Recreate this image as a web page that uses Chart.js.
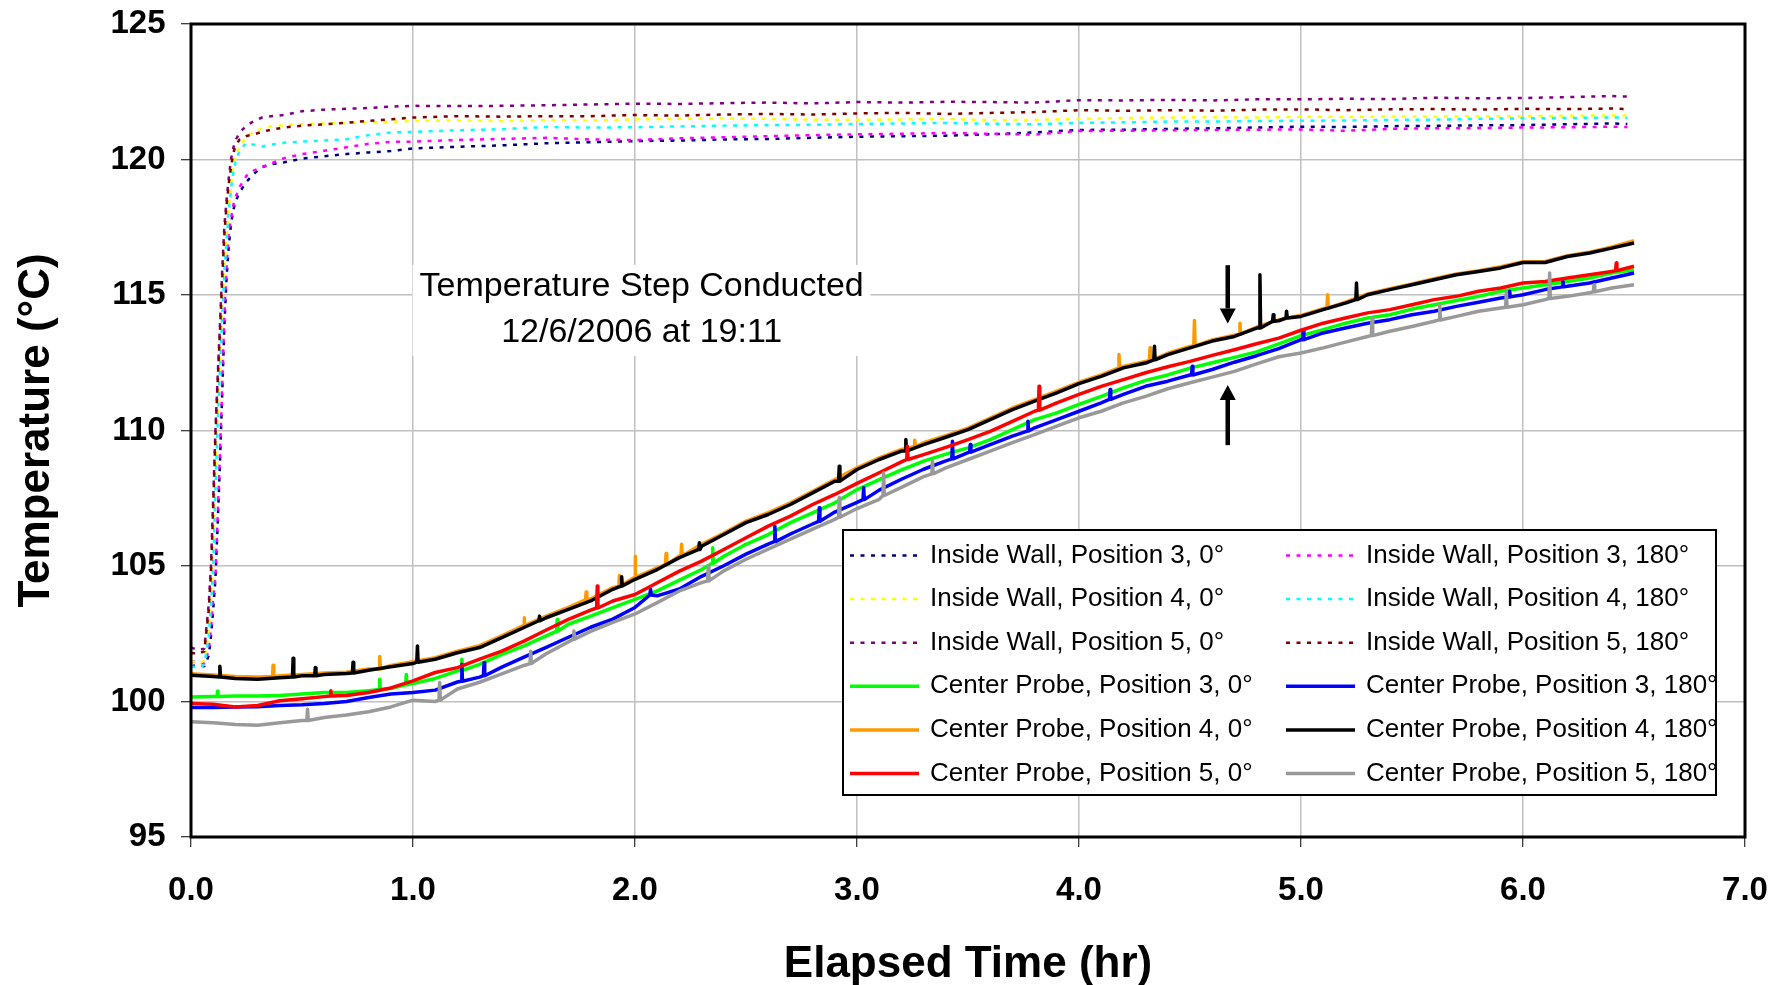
<!DOCTYPE html>
<html>
<head>
<meta charset="utf-8">
<script src="https://cdn.jsdelivr.net/npm/chart.js@4.4.1/dist/chart.umd.min.js"></script>
<style>
html,body{margin:0;padding:0;background:#fff;}
#wrap{width:1788px;height:985px;position:relative;}
canvas{display:block;}
</style>
</head>
<body>
<div id="wrap"><canvas id="c" width="1788" height="985"></canvas></div>
<script>
// ---------------- DATA ----------------
const xTickMin = 0, xTickMax = 7, xTickStep = 1;
const yTickMin = 95, yTickMax = 125, yTickStep = 5;

const wallTimes = [0, 0.03, 0.06, 0.08, 0.09, 0.10, 0.11, 0.12, 0.13, 0.14,
  0.15, 0.16, 0.17, 0.18, 0.19, 0.20, 0.22, 0.25, 0.28, 0.32,
  0.36, 0.42, 0.5, 0.6, 0.7, 0.8, 0.9, 1.0, 1.2, 1.4,
  1.6, 1.8, 2.0, 2.2, 2.4, 2.6, 2.8, 3.0, 3.2, 3.4,
  3.6, 3.8, 4.0, 4.2, 4.4, 4.6, 4.8, 5.0, 5.2, 5.4,
  5.6, 5.8, 6.0, 6.2, 6.4, 6.47];

const wall3_0 = [101.3, 101.35, 101.3, 101.7, 102.4, 103.4, 104.5, 106.5, 108.7, 111.2,
  113.8, 115.6, 116.8, 117.6, 118.1, 118.45, 118.8, 119.18, 119.45, 119.72,
  119.82, 119.9, 120.03, 120.12, 120.2, 120.26, 120.31, 120.41, 120.47, 120.52,
  120.6, 120.64, 120.68, 120.7, 120.74, 120.76, 120.8, 120.84, 120.86, 120.88,
  120.93, 121.0, 121.09, 121.1, 121.13, 121.15, 121.18, 121.21, 121.2, 121.23,
  121.24, 121.26, 121.27, 121.3, 121.33, 121.31];
const wall3_180 = [101.45, 101.5, 101.4, 101.9, 102.7, 103.8, 104.6, 106.8, 109.0, 111.5,
  114.2, 116.0, 117.3, 117.8, 118.3, 118.6, 119.0, 119.4, 119.58, 119.72,
  119.85, 120.05, 120.2, 120.32, 120.45, 120.58, 120.65, 120.66, 120.72, 120.76,
  120.8, 120.74, 120.72, 120.78, 120.82, 120.86, 120.9, 120.93, 120.95, 120.98,
  120.95, 120.92, 121.05, 121.06, 121.08, 121.09, 121.1, 121.11, 121.06, 121.13,
  121.15, 121.16, 121.18, 121.19, 121.21, 121.2];
const wall4_0 = [101.5, 101.4, 101.5, 102.6, 103.8, 105.8, 108.5, 110.8, 112.6, 114.4,
  116.0, 117.1, 118.2, 119.0, 119.7, 120.1, 120.5, 120.85, 121.0, 121.15,
  121.22, 121.27, 121.3, 121.33, 121.35, 121.37, 121.39, 121.42, 121.44, 121.42,
  121.45, 121.44, 121.48, 121.5, 121.52, 121.5, 121.47, 121.46, 121.48, 121.5,
  121.45, 121.46, 121.5, 121.53, 121.55, 121.56, 121.55, 121.58, 121.57, 121.59,
  121.58, 121.6, 121.6, 121.61, 121.63, 121.62];
const wall4_180 = [101.3, 101.25, 101.35, 102.4, 103.5, 105.0, 107.8, 110.2, 112.2, 114.1,
  115.8, 117.0, 118.1, 118.9, 119.5, 119.9, 120.35, 120.62, 120.55, 120.48,
  120.55, 120.62, 120.66, 120.7, 120.75, 120.9, 121.0, 121.02, 121.08, 121.12,
  121.2, 121.18, 121.19, 121.22, 121.25, 121.27, 121.28, 121.31, 121.33, 121.35,
  121.32, 121.3, 121.35, 121.37, 121.4, 121.4, 121.42, 121.43, 121.44, 121.46,
  121.47, 121.5, 121.52, 121.53, 121.55, 121.54];
const wall5_0 = [102.0, 101.9, 101.95, 103.6, 105.0, 107.5, 110.0, 112.0, 113.8, 115.8,
  117.5, 118.5, 119.3, 120.0, 120.4, 120.7, 121.0, 121.25, 121.4, 121.55,
  121.6, 121.64, 121.78, 121.84, 121.87, 121.9, 121.95, 121.98, 121.97, 121.98,
  122.0, 122.03, 122.06, 122.05, 122.08, 122.1, 122.07, 122.12, 122.1, 122.13,
  122.12, 122.1, 122.19, 122.18, 122.2, 122.18, 122.22, 122.22, 122.24, 122.23,
  122.28, 122.26, 122.27, 122.3, 122.34, 122.32];
const wall5_180 = [101.8, 101.75, 101.85, 103.4, 104.8, 107.2, 109.8, 111.8, 113.6, 115.5,
  117.2, 118.3, 119.1, 119.7, 120.2, 120.5, 120.75, 120.87, 120.92, 121.02,
  121.1, 121.18, 121.25, 121.3, 121.35, 121.43, 121.48, 121.55, 121.6, 121.58,
  121.6, 121.6, 121.64, 121.62, 121.66, 121.68, 121.66, 121.7, 121.72, 121.68,
  121.72, 121.75, 121.82, 121.8, 121.82, 121.8, 121.84, 121.85, 121.82, 121.85,
  121.86, 121.84, 121.87, 121.86, 121.88, 121.86];

const probeTimes = [0.0, 0.1, 0.2, 0.3, 0.4, 0.5, 0.6, 0.7, 0.8, 0.9,
  1.0, 1.1, 1.2, 1.3, 1.4, 1.5, 1.6, 1.7, 1.8, 1.9,
  2.0, 2.1, 2.2, 2.3, 2.4, 2.5, 2.6, 2.7, 2.8, 2.9,
  3.0, 3.1, 3.2, 3.3, 3.4, 3.5, 3.6, 3.7, 3.8, 3.9,
  4.0, 4.1, 4.2, 4.3, 4.4, 4.5, 4.6, 4.7, 4.8, 4.9,
  5.0, 5.1, 5.2, 5.3, 5.4, 5.5, 5.6, 5.7, 5.8, 5.9,
  6.0, 6.1, 6.2, 6.3, 6.4, 6.5];

const probe3_0 = [100.17, 100.18, 100.2, 100.2, 100.22, 100.28, 100.33, 100.33, 100.4, 100.48,
  100.66, 100.85, 101.13, 101.37, 101.74, 102.05, 102.42, 102.85, 103.15, 103.46,
  103.77, 104.08, 104.48, 104.87, 105.36, 105.8, 106.16, 106.6, 106.96, 107.33,
  107.82, 108.19, 108.55, 108.87, 109.13, 109.36, 109.66, 110.03, 110.4, 110.65,
  110.96, 111.26, 111.57, 111.85, 112.05, 112.3, 112.5, 112.7, 112.9, 113.2,
  113.5, 113.72, 113.96, 114.15, 114.27, 114.48, 114.64, 114.8, 114.95, 115.14,
  115.26, 115.38, 115.5, 115.63, 115.81, 115.93];
const probe3_180 = [99.78, 99.78, 99.8, 99.81, 99.85, 99.88, 99.93, 100.0, 100.15, 100.28,
  100.33, 100.42, 100.72, 100.9, 101.27, 101.64, 102.0, 102.37, 102.74, 103.04,
  103.47, 103.9, 104.15, 104.62, 105.01, 105.44, 105.81, 106.18, 106.55, 106.99,
  107.35, 107.8, 108.2, 108.57, 108.88, 109.18, 109.48, 109.79, 110.1, 110.4,
  110.71, 111.02, 111.33, 111.63, 111.82, 112.05, 112.25, 112.52, 112.76, 113.02,
  113.35, 113.6, 113.78, 113.96, 114.09, 114.27, 114.4, 114.58, 114.73, 114.89,
  115.01, 115.2, 115.32, 115.44, 115.63, 115.81];
const probe4_0 = [101.02, 100.98, 100.92, 100.9, 100.95, 101.0, 101.05, 101.08, 101.2, 101.33,
  101.47, 101.62, 101.86, 102.06, 102.42, 102.8, 103.15, 103.47, 103.78, 104.2,
  104.58, 104.93, 105.37, 105.8, 106.22, 106.66, 106.97, 107.33, 107.76, 108.19,
  108.62, 108.99, 109.3, 109.55, 109.81, 110.09, 110.46, 110.83, 111.14, 111.45,
  111.78, 112.05, 112.36, 112.55, 112.85, 113.1, 113.34, 113.52, 113.82, 114.08,
  114.25, 114.5, 114.74, 115.04, 115.23, 115.41, 115.6, 115.78, 115.9, 116.04,
  116.23, 116.24, 116.45, 116.58, 116.77, 117.0];
const probe4_180 = [100.97, 100.92, 100.85, 100.82, 100.88, 100.95, 101.0, 101.03, 101.15, 101.28,
  101.4, 101.56, 101.8, 101.99, 102.36, 102.73, 103.09, 103.4, 103.71, 104.14,
  104.51, 104.87, 105.31, 105.73, 106.16, 106.6, 106.9, 107.27, 107.7, 108.13,
  108.56, 108.93, 109.24, 109.48, 109.75, 110.03, 110.4, 110.77, 111.08, 111.39,
  111.73, 112.0, 112.31, 112.49, 112.8, 113.05, 113.3, 113.47, 113.78, 114.05,
  114.21, 114.46, 114.7, 115.01, 115.2, 115.38, 115.56, 115.75, 115.87, 116.0,
  116.2, 116.2, 116.42, 116.55, 116.73, 116.92];
const probe5_0 = [99.93, 99.9, 99.8, 99.85, 100.03, 100.1, 100.18, 100.22, 100.33, 100.5,
  100.76, 101.07, 101.25, 101.56, 101.86, 102.23, 102.64, 103.03, 103.37, 103.71,
  103.95, 104.38, 104.81, 105.18, 105.61, 106.04, 106.47, 106.84, 107.27, 107.64,
  108.05, 108.44, 108.84, 109.11, 109.38, 109.66, 109.97, 110.34, 110.71, 111.02,
  111.33, 111.63, 111.88, 112.13, 112.35, 112.55, 112.77, 112.98, 113.2, 113.41,
  113.7, 113.96, 114.15, 114.34, 114.46, 114.64, 114.83, 114.95, 115.14, 115.26,
  115.44, 115.5, 115.63, 115.75, 115.87, 116.06];
const probe5_180 = [99.25, 99.22, 99.15, 99.12, 99.22, 99.3, 99.41, 99.5, 99.62, 99.8,
  100.05, 100.0, 100.46, 100.71, 101.02, 101.33, 101.76, 102.2, 102.59, 102.92,
  103.23, 103.65, 104.08, 104.39, 104.82, 105.25, 105.62, 105.99, 106.36, 106.72,
  107.12, 107.46, 107.9, 108.3, 108.62, 108.93, 109.24, 109.55, 109.85, 110.16,
  110.47, 110.71, 111.02, 111.26, 111.54, 111.76, 111.97, 112.18, 112.46, 112.72,
  112.86, 113.05, 113.26, 113.47, 113.66, 113.84, 114.03, 114.21, 114.4, 114.52,
  114.64, 114.83, 114.95, 115.08, 115.26, 115.38];

// short sensor spikes: [time, level before/after, peak]
const spikes3_0 = [[0.12,100.18,100.39],[0.85,100.44,100.82],[0.97,100.62,101.0],[1.22,101.15,101.56],[1.65,102.6,103.03],[2.35,105.1,105.67]];
const spikes3_180 = [[1.22,100.75,101.37],[1.32,100.95,101.43],[2.07,103.93,104.14],[2.63,105.9,106.47],[2.83,106.65,107.15],[3.03,107.45,107.89],[3.43,108.95,109.6],[3.51,109.2,109.48],[3.77,109.98,110.34],[4.14,111.15,111.51],[4.51,112.05,112.37],[5.01,113.35,113.72],[5.94,114.93,115.14],[6.18,115.3,115.5]];
const spikes4_0 = [[0.37,100.92,101.34],[0.85,101.2,101.66],[1.5,102.8,103.09],[1.78,103.75,104.04],[1.93,104.25,104.65],[2.0,104.58,105.36],[2.14,105.05,105.46],[2.21,105.38,105.8],[3.26,109.4,109.64],[4.18,112.3,112.8],[4.32,112.58,113.05],[4.52,113.12,114.06],[4.725,113.56,113.96],[5.12,114.52,115.01]];
const spikes4_180 = [[0.13,100.9,101.3],[0.46,100.9,101.6],[0.56,100.95,101.25],[0.73,101.05,101.45],[1.02,101.45,102.05],[1.57,102.98,103.15],[1.94,104.26,104.6],[2.29,105.61,105.86],[2.92,108.13,108.68],[3.22,109.24,109.67],[4.34,112.61,113.11],[4.815,113.78,115.75],[4.875,114.03,114.27],[4.935,114.15,114.4],[5.25,114.83,115.44]];
const spikes5_0 = [[0.63,100.2,100.4],[1.83,103.45,104.26],[3.227,108.93,109.42],[3.82,110.75,111.63],[6.42,115.9,116.18]];
const spikes5_180 = [[0.525,99.3,99.71],[1.12,100.05,100.7],[1.53,101.4,101.85],[1.725,102.3,102.6],[2.33,104.45,105.0],[2.92,106.8,107.52],[3.12,107.6,108.44],[3.34,108.4,108.87],[5.32,113.5,114.15],[5.625,114.08,114.64],[5.925,114.55,115.1],[6.12,114.87,115.81],[6.32,115.12,115.38]];

const seriesLabels = [
  'Inside Wall, Position 3, 0°', 'Inside Wall, Position 3, 180°',
  'Inside Wall, Position 4, 0°', 'Inside Wall, Position 4, 180°',
  'Inside Wall, Position 5, 0°', 'Inside Wall, Position 5, 180°',
  'Center Probe, Position 3, 0°', 'Center Probe, Position 3, 180°',
  'Center Probe, Position 4, 0°', 'Center Probe, Position 4, 180°',
  'Center Probe, Position 5, 0°', 'Center Probe, Position 5, 180°'
];

const annotationLines = ['Temperature Step Conducted', '12/6/2006 at 19:11'];
const annotationX = 2.03;            // hr
const annotationY = [115.3, 113.6];  // °C (line centres)
const arrowMarks = [ {x: 4.67, from: 116.1, to: 113.95}, {x: 4.67, from: 109.46, to: 111.68} ];

// ---------------- BUILD ----------------
const FONT = "'Liberation Sans', Arial, Helvetica, sans-serif";
Chart.defaults.font.family = FONT;
Chart.defaults.color = '#000';

function buildPoints(times, vals, spikes) {
  const pts = times.map((t, i) => ({x: t, y: vals[i]}));
  (spikes || []).forEach(s => {
    pts.push({x: s[0] - 0.003, y: s[1]});
    pts.push({x: s[0], y: s[2]});
    pts.push({x: s[0] + 0.003, y: s[1]});
  });
  pts.sort((a, b) => a.x - b.x);
  return pts;
}

const seriesDefs = [
  {times: wallTimes, vals: wall3_0,   color: '#000080', dotted: true},
  {times: wallTimes, vals: wall3_180, color: '#FF00FF', dotted: true},
  {times: wallTimes, vals: wall4_0,   color: '#FFFF00', dotted: true},
  {times: wallTimes, vals: wall4_180, color: '#00FFFF', dotted: true},
  {times: wallTimes, vals: wall5_0,   color: '#800080', dotted: true},
  {times: wallTimes, vals: wall5_180, color: '#800000', dotted: true},
  {times: probeTimes, vals: probe3_0,   spikes: spikes3_0,   color: '#00FF00'},
  {times: probeTimes, vals: probe3_180, spikes: spikes3_180, color: '#0000FF'},
  {times: probeTimes, vals: probe4_0,   spikes: spikes4_0,   color: '#FF9900'},
  {times: probeTimes, vals: probe4_180, spikes: spikes4_180, color: '#000000'},
  {times: probeTimes, vals: probe5_0,   spikes: spikes5_0,   color: '#FF0000'},
  {times: probeTimes, vals: probe5_180, spikes: spikes5_180, color: '#999999'}
];

const datasets = seriesDefs.map((d, i) => ({
  label: seriesLabels[i],
  data: buildPoints(d.times, d.vals, d.spikes),
  borderColor: d.color,
  backgroundColor: d.color,
  borderWidth: d.dotted ? 2.5 : 3.5,
  borderDash: d.dotted ? [4, 6.5] : [],
  borderCapStyle: 'butt',
  borderJoinStyle: 'round',
  pointRadius: 0,
  tension: 0,
  fill: false,
  order: seriesDefs.length - 1 - i
}));

const annotationPlugin = {
  id: 'annotationPlugin',
  beforeDatasetsDraw(chart) {
    const {ctx, scales: {x, y}} = chart;
    const cx = x.getPixelForValue(annotationX);
    const y1 = y.getPixelForValue(annotationY[0]);
    const y2 = y.getPixelForValue(annotationY[1]);
    ctx.save();
    ctx.font = '34px ' + FONT;
    const w = Math.max(...annotationLines.map(t => ctx.measureText(t).width));
    ctx.fillStyle = '#fff';
    ctx.fillRect(cx - w / 2 - 7, y1 - 22, w + 14, (y2 - y1) + 45);
    ctx.fillStyle = '#000';
    ctx.textAlign = 'center';
    ctx.textBaseline = 'middle';
    ctx.fillText(annotationLines[0], cx, y1);
    ctx.fillText(annotationLines[1], cx, y2);
    ctx.restore();
  },
  afterDatasetsDraw(chart) {
    const {ctx, scales: {x, y}} = chart;
    ctx.save();
    ctx.strokeStyle = '#000';
    ctx.fillStyle = '#000';
    arrowMarks.forEach(a => {
      const px = x.getPixelForValue(a.x);
      const p0 = y.getPixelForValue(a.from);
      const p1 = y.getPixelForValue(a.to);
      const dir = Math.sign(p1 - p0);
      const headLen = 15, headW = 8;
      ctx.lineWidth = 4.5;
      ctx.beginPath();
      ctx.moveTo(px, p0);
      ctx.lineTo(px, p1 - dir * headLen);
      ctx.stroke();
      ctx.beginPath();
      ctx.moveTo(px, p1);
      ctx.lineTo(px - headW, p1 - dir * headLen);
      ctx.lineTo(px + headW, p1 - dir * headLen);
      ctx.closePath();
      ctx.fill();
    });
    ctx.restore();
  },
  afterDraw(chart) {
    const {ctx, chartArea: ca} = chart;
    ctx.save();
    // plot frame
    ctx.strokeStyle = '#000';
    ctx.lineWidth = 3;
    ctx.strokeRect(ca.left, ca.top, ca.right - ca.left, ca.bottom - ca.top);
    // legend box
    const bx = 843, by = 530, bw = 873, bh = 265;
    ctx.fillStyle = '#fff';
    ctx.fillRect(bx, by, bw, bh);
    ctx.lineWidth = 2;
    ctx.strokeRect(bx, by, bw, bh);
    ctx.font = '26px ' + FONT;
    ctx.textBaseline = 'middle';
    ctx.textAlign = 'left';
    const colSample = [850, 1286], colText = [930, 1366];
    const sampleLen = 69, row0 = 555.5, rowStep = 43.6;
    chart.data.datasets.forEach((ds, i) => {
      const row = Math.floor(i / 2), col = i % 2;
      const yy = row0 + row * rowStep;
      ctx.strokeStyle = ds.borderColor;
      ctx.lineWidth = ds.borderDash.length ? 2.5 : 3.5;
      ctx.setLineDash(ds.borderDash);
      ctx.lineCap = 'butt';
      ctx.beginPath();
      ctx.moveTo(colSample[col], yy);
      ctx.lineTo(colSample[col] + sampleLen, yy);
      ctx.stroke();
      ctx.setLineDash([]);
      ctx.fillStyle = '#000';
      ctx.fillText(ds.label, colText[col], yy);
    });
    ctx.restore();
  }
};

function zeroPad(s) { s.paddingTop = 0; s.paddingBottom = 0; s.paddingLeft = 0; s.paddingRight = 0; }

new Chart(document.getElementById('c'), {
  type: 'line',
  data: {datasets},
  plugins: [annotationPlugin],
  options: {
    responsive: false,
    animation: false,
    events: [],
    layout: {padding: {top: 24, right: 43, left: 0, bottom: 0}},
    plugins: {legend: {display: false}, tooltip: {enabled: false}},
    scales: {
      x: {
        type: 'linear', min: xTickMin, max: xTickMax,
        ticks: {stepSize: xTickStep, callback: v => Number(v).toFixed(1), font: {size: 33, weight: 'bold'}, color: '#000', padding: 24, maxRotation: 0, autoSkip: false},
        grid: {color: '#c0c0c0', lineWidth: 1.5, tickColor: '#000', tickLength: 10, tickWidth: 1},
        border: {display: false},
        title: {display: true, text: 'Elapsed Time (hr)', color: '#000', font: {size: 44, weight: 'bold', lineHeight: 1}, padding: {top: 0, bottom: -2}},
        afterFit: s => { s.height = 148; zeroPad(s); }
      },
      y: {
        type: 'linear', min: yTickMin, max: yTickMax,
        ticks: {stepSize: yTickStep, font: {size: 33, weight: 'bold'}, color: '#000', padding: 15.5},
        grid: {color: '#c0c0c0', lineWidth: 1.5, tickColor: '#000', tickLength: 10, tickWidth: 1},
        border: {display: false},
        title: {display: true, text: 'Temperature (°C)', color: '#000', font: {size: 44, weight: 'bold', lineHeight: 1}, padding: {top: 14.5, bottom: 0}},
        afterFit: s => { s.width = 191; zeroPad(s); }
      }
    }
  }
});
</script>
</body>
</html>
